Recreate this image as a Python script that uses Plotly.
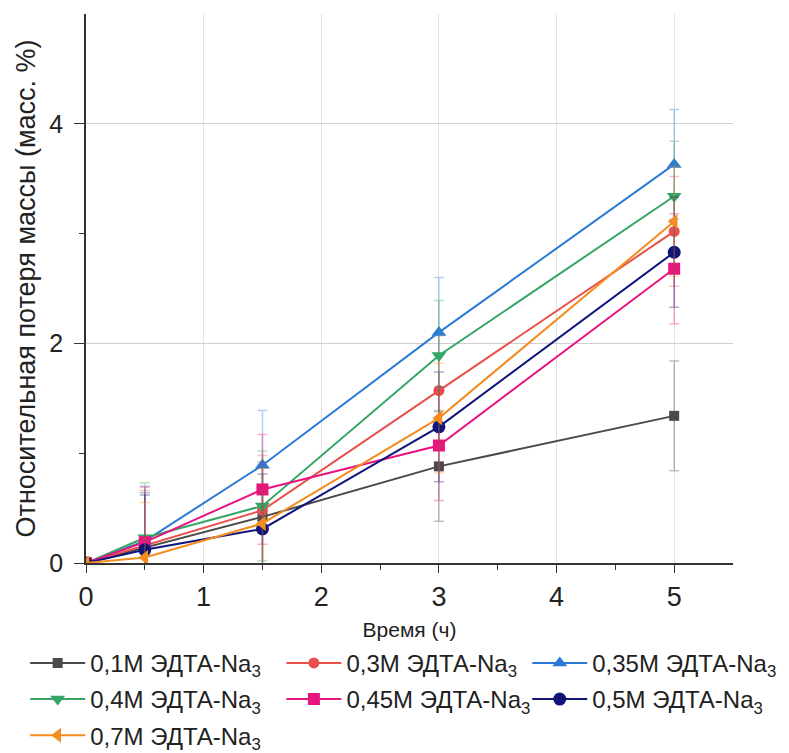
import plotly.graph_objects as go

# Time points (hours)
time_h = [0, 0.5, 1.5, 3, 5]

# Relative mass loss (wt. %) for each EDTA-Na3 concentration
loss_01 = [0, 0.14, 0.42, 0.88, 1.34]
loss_03 = [0, 0.16, 0.48, 1.57, 3.02]
loss_035 = [0, 0.20, 0.89, 2.10, 3.63]
loss_04 = [0, 0.23, 0.52, 1.89, 3.34]
loss_045 = [0, 0.19, 0.67, 1.07, 2.68]
loss_05 = [0, 0.12, 0.31, 1.24, 2.83]
loss_07 = [0, 0.05, 0.36, 1.32, 3.11]

# Standard deviation of each measurement
err_01 = [0, 0.5, 0.5, 0.5, 0.5]
err_03 = [0, 0.5, 0.5, 0.5, 0.5]
err_035 = [0, 0.5, 0.5, 0.5, 0.5]
err_04 = [0, 0.5, 0.5, 0.5, 0.5]
err_045 = [0, 0.5, 0.5, 0.5, 0.5]
err_05 = [0, 0.5, 0.5, 0.5, 0.5]
err_07 = [0, 0.5, 0.5, 0.5, 0.5]

series_names = [
    "0,1M ЭДТА-Na<sub>3</sub>",
    "0,3M ЭДТА-Na<sub>3</sub>",
    "0,35M ЭДТА-Na<sub>3</sub>",
    "0,4M ЭДТА-Na<sub>3</sub>",
    "0,45M ЭДТА-Na<sub>3</sub>",
    "0,5M ЭДТА-Na<sub>3</sub>",
    "0,7M ЭДТА-Na<sub>3</sub>",
]
series_values = [loss_01, loss_03, loss_035, loss_04, loss_045, loss_05, loss_07]
series_errors = [err_01, err_03, err_035, err_04, err_045, err_05, err_07]

# line colour, error-bar colour, marker symbol, marker size, legend column
styles = [
    ("#4a4a4a", "rgba(74,74,74,0.35)", "square", 10, "legend"),
    ("#e8504a", "rgba(232,80,74,0.35)", "circle", 11, "legend2"),
    ("#2b7bd6", "rgba(43,123,214,0.35)", "triangle-up", 13, "legend3"),
    ("#35a565", "rgba(53,165,101,0.35)", "triangle-down", 13, "legend"),
    ("#e8157f", "rgba(232,21,127,0.35)", "square", 12, "legend2"),
    ("#10157a", "rgba(16,21,122,0.35)", "circle", 13, "legend3"),
    ("#f58c1f", "rgba(245,140,31,0.35)", "triangle-left", 13, "legend"),
]

fig = go.Figure()
for i, (name, vals, errs, (col, ecol, sym, sz, leg)) in enumerate(
        zip(series_names, series_values, series_errors, styles)):
    fig.add_trace(go.Scatter(
        x=time_h, y=vals, name=name, mode="lines+markers",
        legend=leg, legendgroup=f"g{i}",
        line=dict(color=col, width=2),
        marker=dict(color=col, symbol=sym, size=sz),
        error_y=dict(type="data", array=errs, visible=True,
                     color=ecol, thickness=1.5, width=5),
    ))

font_family = "Liberation Sans, Arial, sans-serif"
text_col = "#222222"


def column_legend(x_paper):
    return dict(
        orientation="v", xref="paper", x=x_paper, xanchor="left",
        yref="container", y=0.149, yanchor="top",
        font=dict(size=24, family=font_family, color=text_col),
        itemwidth=55, tracegroupgap=2,
        bgcolor="rgba(0,0,0,0)", borderwidth=0,
    )


fig.update_layout(
    width=789, height=753,
    margin=dict(l=86, r=56, t=14, b=190, autoexpand=False),
    plot_bgcolor="white", paper_bgcolor="white",
    font=dict(family=font_family, color=text_col),
    showlegend=True,
    legend=column_legend(-0.094),
    legend2=column_legend(0.302),
    legend3=column_legend(0.682),
    xaxis=dict(
        range=[0, 5.5], tickvals=[0, 1, 2, 3, 4, 5],
        automargin=False,
        ticks="outside", ticklen=8, tickwidth=1.2, tickcolor="#333333",
        minor=dict(tickvals=[0.5, 1.5, 2.5, 3.5, 4.5], ticks="outside",
                   ticklen=5, tickcolor="#333333", showgrid=False),
        showline=True, linecolor="#333333", linewidth=1.5,
        showgrid=True, gridcolor="#e3e3e3", gridwidth=1.2,
        zeroline=False,
        tickfont=dict(size=27, family=font_family, color=text_col),
        ticklabelstandoff=1,
        title=dict(text="Время (ч)", font=dict(size=21, family=font_family, color=text_col),
                   standoff=14),
    ),
    yaxis=dict(
        range=[0, 5], tickvals=[0, 2, 4],
        automargin=False,
        ticks="outside", ticklen=10, tickwidth=1.2, tickcolor="#333333",
        minor=dict(tickvals=[1, 3], ticks="outside", ticklen=5,
                   tickcolor="#333333", showgrid=False),
        showline=True, linecolor="#333333", linewidth=1.5,
        showgrid=True, gridcolor="#cfcfcf", gridwidth=1.2,
        zeroline=False,
        tickfont=dict(size=25, family=font_family, color=text_col),
        ticklabelstandoff=6,
        title=dict(text="Относительная потеря массы (масс. %)",
                   font=dict(size=27, family=font_family, color=text_col), standoff=6),
    ),
)

fig.write_html("out.html")
